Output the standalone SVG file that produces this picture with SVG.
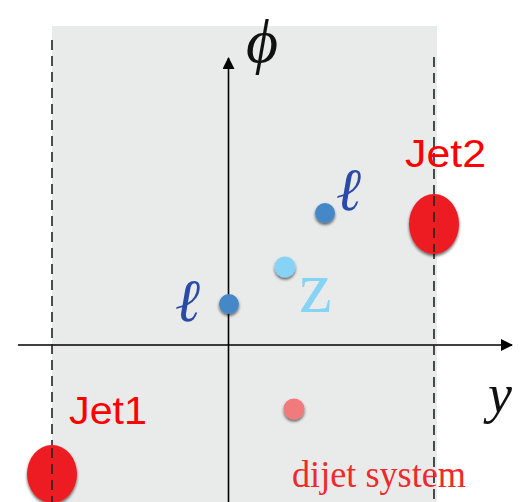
<svg xmlns="http://www.w3.org/2000/svg" width="529" height="502" viewBox="0 0 529 502">
<style>
.axis{stroke:#000;stroke-width:1.6;fill:none}
.dash{stroke:#222;stroke-width:1.6;stroke-dasharray:10,6;fill:none}
.jet{font-family:"Liberation Sans",Arial,sans-serif;font-size:39px;fill:#ff0000}
.lep{font-family:"Liberation Serif",serif;font-style:italic;font-size:60px;fill:#2a4aa8}
.math{font-family:"Liberation Serif",serif;font-style:italic;fill:#111}
</style>
<defs>
<marker id="ah" markerWidth="12" markerHeight="12" refX="11" refY="6" orient="auto" markerUnits="userSpaceOnUse">
<path d="M0,0 L12,6 L0,12 Z" fill="#000"/>
</marker>
<filter id="sh" x="-50%" y="-50%" width="200%" height="200%">
<feGaussianBlur in="SourceAlpha" stdDeviation="1.5"/>
<feOffset dx="0" dy="1.5"/>
<feComponentTransfer><feFuncA type="linear" slope="0.6"/></feComponentTransfer>
<feMerge><feMergeNode/><feMergeNode in="SourceGraphic"/></feMerge>
</filter>
</defs>
<rect x="52" y="26" width="385" height="476" fill="#e9ebea"/>
<g id="connectors">
<line class="axis" x1="228.5" y1="502" x2="228.5" y2="58" marker-end="url(#ah)"/>
<line class="axis" x1="18" y1="345" x2="512" y2="345" marker-end="url(#ah)"/>
<line class="dash" x1="52" y1="40" x2="52" y2="502"/>
<line class="dash" x1="434" y1="57" x2="434" y2="500"/>
</g>
<g id="phi"><text class="math" x="246" y="62" font-size="62">ϕ</text></g>
<g id="yaxis-label"><text class="math" x="488" y="412" font-size="54">y</text></g>
<g id="jet2">
<ellipse cx="434" cy="224" rx="25" ry="30" fill="#ed1c24" filter="url(#sh)"/>
<line class="dash" x1="434" y1="196" x2="434" y2="252"/>
<text class="jet" x="405" y="167" textLength="81" lengthAdjust="spacingAndGlyphs">Jet2</text>
</g>
<g id="jet1">
<ellipse cx="52" cy="474" rx="25" ry="29" fill="#ed1c24" filter="url(#sh)"/>
<line class="dash" x1="52" y1="448" x2="52" y2="502"/>
<text class="jet" x="69" y="424" textLength="78" lengthAdjust="spacingAndGlyphs">Jet1</text>
</g>
<g id="lepton1">
<circle cx="325" cy="213" r="10" fill="#4588c8" filter="url(#sh)"/>
<text class="lep" x="336" y="210">ℓ</text>
</g>
<g id="lepton2">
<circle cx="229" cy="304" r="10" fill="#4588c8" filter="url(#sh)"/>
<text class="lep" x="175" y="321">ℓ</text>
</g>
<g id="z">
<circle cx="285" cy="267" r="10.5" fill="#86d3f5" filter="url(#sh)"/>
<text x="299" y="312" font-family="Liberation Serif,serif" font-size="74" fill="#86d3f5">z</text>
</g>
<g id="dijet">
<circle cx="294" cy="409" r="10.5" fill="#f07a7c" filter="url(#sh)"/>
<text x="292" y="487" font-family="Liberation Serif,serif" font-size="38" fill="#ee2a2a" textLength="174" lengthAdjust="spacingAndGlyphs">dijet system</text>
</g>
</svg>
